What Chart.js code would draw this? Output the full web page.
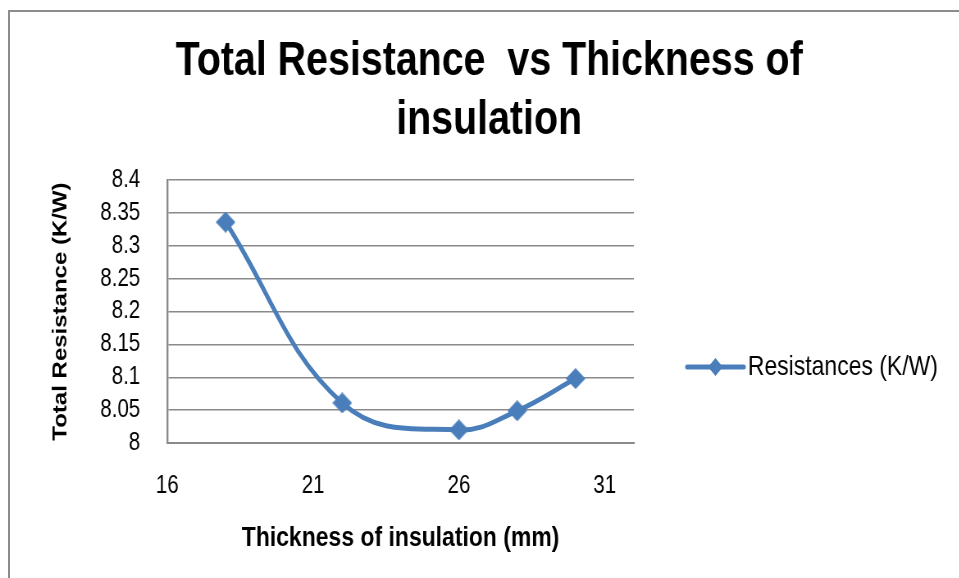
<!DOCTYPE html>
<html>
<head>
<meta charset="utf-8">
<script src="https://cdn.jsdelivr.net/npm/chart.js@4/dist/chart.umd.min.js"></script>
<style>
    html, body { margin: 0; padding: 0; background: #fff; overflow: hidden; }
    #wrap { position: relative; width: 959px; height: 578px; overflow: hidden; }
    #frame { position: absolute; left: 8px; top: 10px; width: 2000px; height: 2000px; border: 2px solid #8c8c8c; background: #fff; }
    /* the source picture is squeezed sideways, so the canvas is drawn wide and squeezed back */
    #c { position: absolute; left: 0; top: 0; transform: scaleX(0.82); transform-origin: 0 0; }
</style>
</head>
<body>
<div id="wrap">
    <div id="frame"></div>
    <canvas id="c" width="1170" height="578"></canvas>
</div>
<script>
//data
const thickness = [18, 22, 26, 28, 30];
const resistance = [8.336, 8.061, 8.02, 8.049, 8.098];
const xTicks = [16, 21, 26, 31];
const yTicks = [8, 8.05, 8.1, 8.15, 8.2, 8.25, 8.3, 8.35, 8.4];

const seriesLabel = 'Resistances (K/W)';
const lineColor = '#4a7ebb';
const font = "'Liberation Sans', Arial, sans-serif";
const gridColor = '#8a8a8a';

//diamond marker, a bit wider than tall before the squeeze
function makeDiamond(w, h, color) {
    const c = document.createElement('canvas');
    c.width = w;
    c.height = h;
    const g = c.getContext('2d');
    g.fillStyle = color;
    g.beginPath();
    g.moveTo(w / 2, 0);
    g.lineTo(w, h / 2);
    g.lineTo(w / 2, h);
    g.lineTo(0, h / 2);
    g.closePath();
    g.fill();
    return c;
}
const marker = makeDiamond(24, 21, lineColor);

//legend drawn at the right, like the excel one
const sideLegend = {
    id: 'sideLegend',
    afterDraw(chart) {
        const ctx = chart.ctx;
        const area = chart.chartArea;
        const ds = chart.data.datasets[0];
        const x0 = area.right + 65;
        const x1 = x0 + 69;
        const y = area.bottom - 76;
        const mid = (x0 + x1) / 2;
        const r = 9;

        ctx.save();
        ctx.strokeStyle = ds.borderColor;
        ctx.lineWidth = ds.borderWidth;
        ctx.lineCap = 'round';
        ctx.beginPath();
        ctx.moveTo(x0, y);
        ctx.lineTo(x1, y);
        ctx.stroke();

        ctx.fillStyle = ds.borderColor;
        ctx.beginPath();
        ctx.moveTo(mid, y - r);
        ctx.lineTo(mid + r, y);
        ctx.lineTo(mid, y + r);
        ctx.lineTo(mid - r, y);
        ctx.closePath();
        ctx.fill();

        ctx.fillStyle = '#000';
        ctx.font = '28px ' + font;
        ctx.textBaseline = 'middle';
        ctx.textAlign = 'left';
        ctx.fillText(ds.label, x1 + 5, y);
        ctx.restore();
    }
};

const points = thickness.map((t, i) => ({ x: t, y: resistance[i] }));

const ctx = document.getElementById('c').getContext('2d');
const resChart = new Chart(ctx, {
    type: 'scatter',
    data: {
        datasets: [
            {
                label: seriesLabel,
                data: points,
                showLine: true,
                tension: 0.4,
                borderColor: lineColor,
                borderWidth: 5,
                pointStyle: marker,
                pointRadius: 10,
                clip: false
            }
        ]
    },
    plugins: [sideLegend],
    options: {
        responsive: false,
        animation: false,
        devicePixelRatio: 1,
        layout: { padding: { left: 23, right: 0, top: 0, bottom: 0 } },
        plugins: {
            legend: { display: false },
            tooltip: { enabled: false },
            title: {
                display: true,
                text: ['Total Resistance  vs Thickness of', 'insulation'],
                color: '#000',
                font: { family: font, size: 48, weight: 'bold', lineHeight: 1.23 },
                padding: { top: 32, bottom: 30 }
            }
        },
        scales: {
            x: {
                type: 'linear',
                min: 16,
                max: 32,
                afterBuildTicks: (s) => { s.ticks = xTicks.map(v => ({ value: v })); },
                afterFit: (s) => { s.height = 135; },
                grid: { display: false, drawTicks: false },
                border: { display: true, color: gridColor, width: 2 },
                ticks: {
                    color: '#000',
                    padding: 28,
                    maxRotation: 0,
                    autoSkip: false,
                    font: { family: font, size: 25 }
                },
                title: {
                    display: true,
                    text: 'Thickness of insulation (mm)',
                    color: '#000',
                    font: { family: font, size: 28, weight: 'bold' },
                    padding: { top: 0, bottom: 23 }
                }
            },
            y: {
                type: 'linear',
                min: 8,
                max: 8.4,
                afterBuildTicks: (s) => { s.ticks = yTicks.map(v => ({ value: v })); },
                afterFit: (s) => { s.width = 181; },
                grid: { color: gridColor, lineWidth: 1.5, drawTicks: false },
                border: { display: true, color: gridColor, width: 2.4 },
                ticks: {
                    color: '#000',
                    padding: 33,
                    autoSkip: false,
                    font: { family: font, size: 25 },
                    callback: (v) => String(+v.toFixed(2))
                },
                title: {
                    display: true,
                    text: 'Total Resistance (K/W)',
                    color: '#000',
                    font: { family: font, size: 24, weight: 'bold' },
                    padding: { top: 37, bottom: 0 }
                }
            },
            //empty axis on the right keeps room for the legend
            side: {
                type: 'linear',
                position: 'right',
                display: true,
                grid: { display: false, drawTicks: false },
                border: { display: false },
                ticks: { display: false },
                afterFit: (s) => { s.width = 397; }
            }
        }
    }
});
</script>
</body>
</html>
